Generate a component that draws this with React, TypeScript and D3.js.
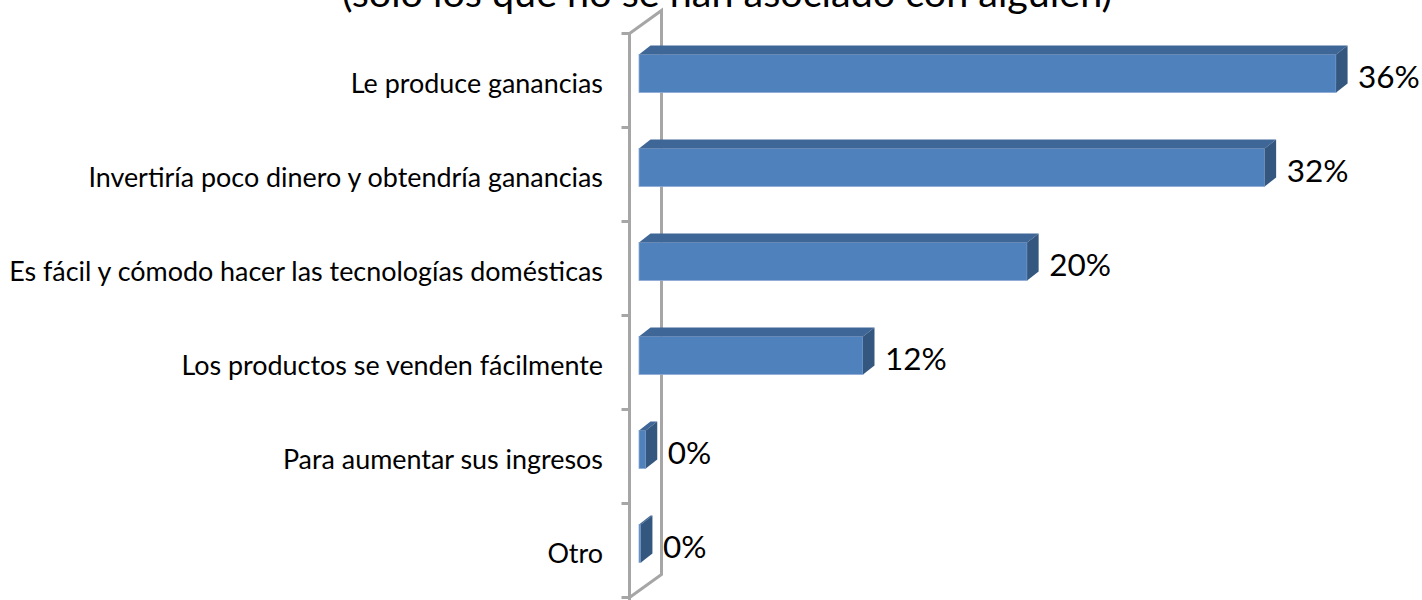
import { useEffect, useRef } from "react";
import * as d3 from "d3";

// título (la primera línea queda fuera del recorte)
const title = "(solo los que no se han asociado con alguien)";

const categories = [
  "Le produce ganancias",
  "Invertiría poco dinero y obtendría ganancias",
  "Es fácil y cómodo hacer las tecnologías domésticas",
  "Los productos se venden fácilmente",
  "Para aumentar sus ingresos",
  "Otro",
];

const values = [36.1, 32.4, 20.1, 11.6, 0.35, 0.1];

const App = () => {
  const ref = useRef<SVGSVGElement>(null);

  useEffect(() => {
    const width = 1422;
    const height = 600;
    const font = "Lato, 'Open Sans', sans-serif";

    const svg = d3.select(ref.current)
      .attr("width", width)
      .attr("height", height)
      .attr("viewBox", [0, 0, width, height].join(" "));
    svg.selectAll("*").remove();

    // escalas
    const x = d3.scaleLinear()
      .domain([0, 40])
      .range([639, 639 + 40 * 19.31]);

    const y = d3.scaleBand<string>()
      .domain(categories)
      .range([33.5, 597.5])
      .paddingInner(0)
      .paddingOuter(0);

    const bw = y.bandwidth();
    const wallX = x(0) - 9.5;       // plano frontal de la pared
    const wallDx = 32, wallDy = -23; // profundidad de la pared
    const barShiftY = -7;            // la barra está algo dentro de la pared
    const barH = 38;
    const dx = 11.5, dy = -9;        // profundidad de la barra

    // título
    svg.append("text")
      .attr("x", 727)
      .attr("y", 7)
      .attr("text-anchor", "middle")
      .attr("font-family", font)
      .attr("font-size", 39.5)
      .attr("fill", "#000")
      .text(title);

    // pared lateral (eje de categorías)
    const y0 = y.range()[0];
    const y1 = y.range()[1];
    const wall = svg.append("g")
      .attr("fill", "none")
      .attr("stroke", "#a6a6a6")
      .attr("stroke-width", 3);
    wall.append("path")
      .attr("d", `M${wallX},${y1 + 10}L${wallX},${y0}L${wallX + wallDx},${y0 + wallDy}L${wallX + wallDx},${y1 + wallDy}L${wallX},${y1}`);

    const bounds = [...categories.map(c => y(c)!), y1];
    wall.selectAll("line.tick")
      .data(bounds)
      .join("line")
      .attr("class", "tick")
      .attr("x1", wallX - 8)
      .attr("x2", wallX)
      .attr("y1", d => d)
      .attr("y2", d => d);

    // etiquetas de categoría
    svg.append("g")
      .selectAll("text")
      .data(categories)
      .join("text")
      .attr("x", wallX - 26.5)
      .attr("y", d => y(d)! + bw / 2 + 12)
      .attr("text-anchor", "end")
      .attr("font-family", font)
      .attr("font-size", 26.9)
      .attr("fill", "#000")
      .text(d => d);

    // barras 3D
    const bars = svg.append("g")
      .selectAll("g")
      .data(categories.map((c, i) => ({ c, v: values[i] })))
      .join("g");

    const top = (d: { c: string }) => y(d.c)! + (bw - barH) / 2 + barShiftY;

    bars.append("rect")
      .attr("x", x(0))
      .attr("y", d => top(d))
      .attr("width", d => x(d.v) - x(0))
      .attr("height", barH)
      .attr("fill", "#4F81BD")
      .attr("stroke", "#8eaad4")
      .attr("stroke-width", 0.8);

    bars.append("path")
      .attr("fill", "#3E6697")
      .attr("d", d => {
        const t = top(d), a = x(0), b = x(d.v);
        return `M${a},${t}L${a + dx},${t + dy}L${b + dx},${t + dy}L${b},${t}Z`;
      });

    bars.append("path")
      .attr("fill", "#34577F")
      .attr("d", d => {
        const t = top(d), b = x(d.v);
        return `M${b},${t}L${b + dx},${t + dy}L${b + dx},${t + barH + dy}L${b},${t + barH}Z`;
      });

    // etiquetas de valor
    const fmt = d3.format(".0f");
    bars.append("text")
      .attr("x", d => x(d.v) + 22)
      .attr("y", d => y(d.c)! + bw / 2 + 7)
      .attr("font-family", font)
      .attr("font-size", 31.5)
      .attr("fill", "#000")
      .text(d => `${fmt(d.v)}%`);
  }, []);

  return <svg ref={ref} style={{ position: "absolute", left: 0, top: 0 }}></svg>;
};

export default App;
